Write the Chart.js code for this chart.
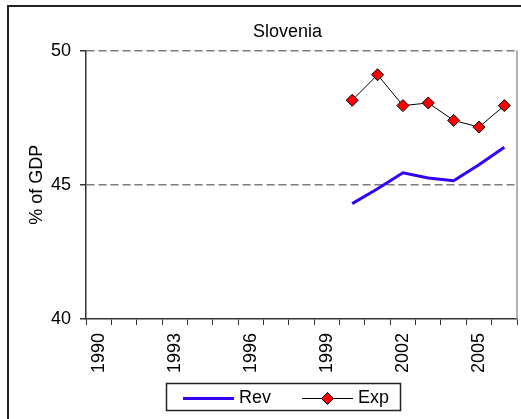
<!DOCTYPE html>
<html>
<head>
<meta charset="utf-8">
<script src="https://cdn.jsdelivr.net/npm/chart.js@4"></script>
<style>
  html, body { margin: 0; background: #fff; overflow: hidden; }
  canvas { display: block; }
</style>
</head>
<body>
<canvas id="chart" width="521" height="419"></canvas>
<script>
const years = ['1990', '1991', '1992', '1993', '1994', '1995', '1996', '1997', '1998',
    '1999', '2000', '2001', '2002', '2003', '2004', '2005', '2006'];
const revenue = [null, null, null, null, null, null, null, null, null, null,
    44.3, 44.85, 45.45, 45.25, 45.15, 45.75, 46.4];
const expenditure = [null, null, null, null, null, null, null, null, null, null,
    48.15, 49.1, 47.95, 48.05, 47.4, 47.15, 47.95];
const yTicks = [40, 45, 50];

const FONT = "'Liberation Sans', Arial, sans-serif";
const SW_GAP = 13;              // blank left part of each swatch
const SW_BOX = 51 + SW_GAP;     // legend box width

// legend swatches: plain line for Rev, line with a diamond for Exp
function makeSwatch(withMarker) {
    const c = document.createElement('canvas');
    c.width = SW_BOX + 8;
    c.height = 14;
    const g = c.getContext('2d');
    const x0 = c.width - 51;
    if (withMarker) {
        const cx = x0 + 25.5;
        g.strokeStyle = '#000';
        g.lineWidth = 1;
        g.beginPath();
        g.moveTo(x0, 7.5);
        g.lineTo(x0 + 51, 7.5);
        g.stroke();
        g.beginPath();
        g.moveTo(cx, 1.5);
        g.lineTo(cx + 6, 7.5);
        g.lineTo(cx, 13.5);
        g.lineTo(cx - 6, 7.5);
        g.closePath();
        g.fillStyle = '#ff0000';
        g.fill();
        g.stroke();
    } else {
        g.fillStyle = '#3300ff';
        g.fillRect(x0, 6, 51, 3);
    }
    return c;
}

const frames = {
    id: 'frames',
    afterLayout(chart) {
        // Excel centres title and legend a bit right of the canvas centre
        chart.legend.left += 19;
        chart.legend.right += 19;
        chart.titleBlock.left += 29;
        chart.titleBlock.right += 29;
    },
    beforeDraw(chart) {
        const ctx = chart.ctx;
        ctx.save();
        ctx.fillStyle = '#fff';
        ctx.fillRect(0, 0, chart.width, chart.height);
        ctx.strokeStyle = '#222';
        ctx.lineWidth = 2;
        ctx.beginPath();
        ctx.moveTo(8, chart.height);
        ctx.lineTo(8, 6);
        ctx.lineTo(chart.width, 6);
        ctx.stroke();
        ctx.restore();
    },
    afterDraw(chart) {
        const ctx = chart.ctx;
        const area = chart.chartArea;
        ctx.save();
        // right edge of the plot area
        ctx.strokeStyle = '#999';
        ctx.lineWidth = 1.5;
        ctx.beginPath();
        ctx.moveTo(area.right, area.top);
        ctx.lineTo(area.right, area.bottom);
        ctx.stroke();
        // box round the legend
        const boxes = chart.legend.legendHitBoxes;
        if (boxes && boxes.length) {
            const left = Math.min(...boxes.map(b => b.left)) + SW_GAP + 4 - 17;
            const right = Math.max(...boxes.map(b => b.left + b.width)) + 11;
            const mid = boxes[0].top + boxes[0].height / 2;
            ctx.strokeStyle = '#222';
            ctx.strokeRect(Math.round(left) + 0.5, Math.round(mid - 15) + 0.5, Math.round(right - left), 27);
        }
        ctx.restore();
    }
};

new Chart(document.getElementById('chart'), {
    type: 'line',
    data: {
        labels: years,
        datasets: [{
            label: 'Rev',
            data: revenue,
            borderColor: '#3300ff',
            borderWidth: 3,
            pointRadius: 0,
            tension: 0
        }, {
            label: 'Exp',
            data: expenditure,
            borderColor: '#000',
            borderWidth: 1,
            pointStyle: 'rectRot',
            pointRadius: 6,
            pointBackgroundColor: '#ff0000',
            pointBorderColor: '#000',
            pointBorderWidth: 1,
            tension: 0
        }]
    },
    options: {
        responsive: false,
        animation: false,
        layout: { autoPadding: false, padding: { top: 1, right: 4, bottom: 2, left: 0 } },
        scales: {
            x: {
                offset: true,
                grid: { drawOnChartArea: false, offset: true, tickLength: 6, tickColor: '#333' },
                border: { color: '#333', width: 1.5 },
                afterFit: scale => {
                    scale.height = 56;
                    scale.paddingLeft = 0;
                    scale.paddingRight = 0;
                },
                ticks: {
                    autoSkip: false,
                    maxRotation: 90,
                    minRotation: 90,
                    padding: 8,
                    color: '#000',
                    font: { family: FONT, size: 18 },
                    callback: function (value, index) {
                        return index % 3 === 0 ? this.getLabelForValue(value) : '';
                    }
                }
            },
            y: {
                min: 40,
                max: 50,
                afterBuildTicks: scale => { scale.ticks = yTicks.map(v => ({ value: v })); },
                afterFit: scale => { scale.width = 86; },
                grid: {
                    color: ctx => ctx.tick && ctx.tick.value === 40 ? 'rgba(0,0,0,0)' : '#7a7a7a',
                    lineWidth: 1.5,
                    tickLength: 6,
                    tickColor: '#333',
                    tickBorderDash: []
                },
                border: { color: '#333', width: 1.5, dash: [8, 4] },
                ticks: {
                    padding: 9,
                    color: '#000',
                    font: { family: FONT, size: 18 }
                },
                title: {
                    display: true,
                    text: '% of GDP',
                    color: '#000',
                    font: { family: FONT, size: 18 },
                    padding: { top: 26, bottom: 0 }
                }
            }
        },
        plugins: {
            title: {
                display: true,
                text: 'Slovenia',
                color: '#000',
                font: { family: FONT, size: 18, weight: 'normal' },
                padding: { top: 20, bottom: 8 }
            },
            legend: {
                position: 'bottom',
                labels: {
                    usePointStyle: true,
                    pointStyleWidth: SW_BOX,
                    boxHeight: 18,
                    padding: 14,
                    color: '#000',
                    font: { family: FONT, size: 18 },
                    generateLabels: chart => chart.data.datasets.map((ds, i) => ({
                        text: ds.label,
                        pointStyle: makeSwatch(i === 1),
                        fillStyle: 'rgba(0,0,0,0)',
                        strokeStyle: 'rgba(0,0,0,0)',
                        lineWidth: 0,
                        fontColor: '#000',
                        hidden: false,
                        datasetIndex: i
                    }))
                }
            },
            tooltip: { enabled: false }
        }
    },
    plugins: [frames]
});
</script>
</body>
</html>
